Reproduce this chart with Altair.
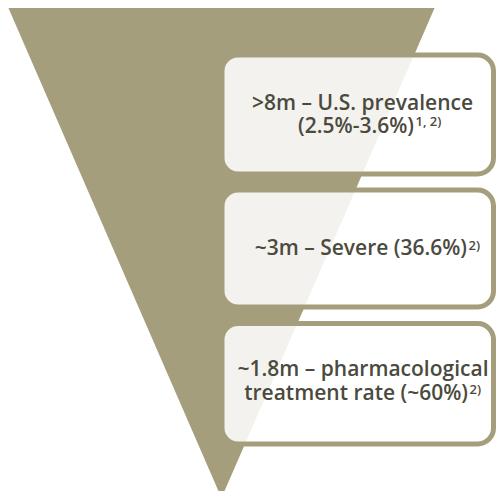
import altair as alt
import pandas as pd

# Funnel triangle (screen coordinates, px)
tri_y = [7, 498]
tri_left = [8, 221.5]
tri_right = [435, 221.5]

# Boxes
box_x1 = [222, 222, 222]
box_x2 = [493.5, 493.5, 493.5]
box_y1 = [55, 190, 323.5]
box_y2 = [174, 307, 444]

# Main text lines
line_text = [">8m – U.S. prevalence", "(2.5%-3.6%)",
             "~3m – Severe (36.6%)",
             "~1.8m – pharmacological", "treatment rate (~60%)"]
line_x = [362.5, 414, 467, 363, 468]
line_y = [110, 132.5, 255, 376, 399.5]
line_align = ["center", "right", "right", "center", "right"]

# Superscripts
sup_text = ["1, 2)", "2)", "2)"]
sup_x = [415.5, 468.5, 469.5]
sup_y = [126, 250, 394]

OLIVE = "#A59E7C"
TEXT = "#4b4a3e"
FONT = "Open Sans"

W, H = 488, 483
xs = alt.Scale(domain=[8, 8 + W], range=[0, W])
ys = alt.Scale(domain=[8, 8 + H], range=[0, H])

tri = pd.DataFrame({"y": tri_y, "xl": tri_left, "xr": tri_right})
boxes = pd.DataFrame({"x1": box_x1, "x2": box_x2, "y1": box_y1, "y2": box_y2})
lines = pd.DataFrame({"t": line_text, "x": line_x, "y": line_y, "a": line_align})
sups = pd.DataFrame({"t": sup_text, "x": sup_x, "y": sup_y})

triangle = alt.Chart(tri).mark_area(orient="horizontal", color=OLIVE).encode(
    y=alt.Y("y:Q", scale=ys, axis=None),
    x=alt.X("xl:Q", scale=xs, axis=None),
    x2="xr:Q",
)

rects = alt.Chart(boxes).mark_rect(
    fill="white", fillOpacity=0.87, stroke=OLIVE, strokeWidth=5, cornerRadius=16
).encode(
    x=alt.X("x1:Q", scale=xs, axis=None),
    x2="x2:Q",
    y=alt.Y("y1:Q", scale=ys, axis=None),
    y2="y2:Q",
)

def text_layer(df, align, size):
    return alt.Chart(df).mark_text(
        align=align, baseline="alphabetic", font=FONT, fontSize=size,
        fontWeight=600, color=TEXT
    ).encode(
        x=alt.X("x:Q", scale=xs, axis=None),
        y=alt.Y("y:Q", scale=ys, axis=None),
        text="t:N",
    )

center_lines = text_layer(lines[lines.a == "center"], "center", 21)
right_lines = text_layer(lines[lines.a == "right"], "right", 21)
sup_layer = text_layer(sups, "left", 13)

chart = alt.layer(triangle, rects, center_lines, right_lines, sup_layer).properties(
    width=W, height=H, padding=0, autosize="none"
).configure_view(stroke=None)

chart.save("out.html", embed_options={"renderer": "svg", "actions": False})
